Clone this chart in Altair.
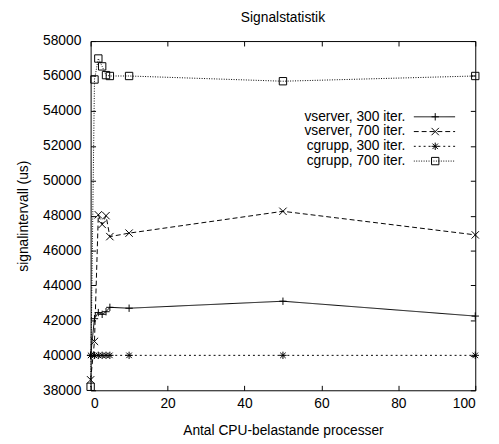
import altair as alt
import pandas as pd

# ---- data ----
x_vals = [0, 1, 2, 3, 4, 5, 10, 50, 100]
series_names = ["vserver, 300 iter.", "vserver, 700 iter.", "cgrupp, 300 iter.", "cgrupp, 700 iter."]
vserver_300 = [40000, 42100, 42450, 42350, 42500, 42750, 42700, 43100, 42250]
vserver_700 = [38600, 40800, 48050, 47500, 48000, 46800, 47000, 48250, 46900]
cgrupp_300 = [40000, 40000, 40000, 40000, 40000, 40000, 40000, 40000, 40000]
cgrupp_700 = [38200, 55800, 57000, 56550, 56050, 56000, 56000, 55700, 56000]
x_ticks = [0, 20, 40, 60, 80, 100]
y_ticks = [38000, 40000, 42000, 44000, 46000, 48000, 50000, 52000, 54000, 56000, 58000]

rows = []
for name, vals in zip(series_names, [vserver_300, vserver_700, cgrupp_300, cgrupp_700]):
    for xv, yv in zip(x_vals, vals):
        rows.append({"x": xv, "y": yv, "series": name,
                     "series_ln": name + " ", "series_pt": name + "  "})
df = pd.DataFrame(rows)

# ---- styles ----
W, H = 391, 355
FONT = "Liberation Sans"
FS = 14
dashes = [[1, 0], [5, 3], [2, 3], [1, 1.5]]
shapes = [
    "M-1,0L1,0M0,-1L0,1",
    "M-1,-1L1,1M-1,1L1,-1",
    "M-1,0L1,0M0,-1L0,1M-0.75,-0.75L0.75,0.75M-0.75,0.75L0.75,-0.75",
    "M-1,-1L1,-1L1,1L-1,1Z",
]

xscale = alt.Scale(domain=[0, 100], nice=False, zero=False)
yscale = alt.Scale(domain=[38000, 58000], nice=False, zero=False)

common_axis = dict(offset=-5, tickSize=5, domain=False, grid=False, tickColor="black",
                   labelColor="black", labelFont=FONT, labelFontSize=FS,
                   titleFont=FONT, titleFontSize=FS, titleFontWeight="normal", titleColor="black")

LEG_X = 328
LEG_Y = 69.5
common_leg = dict(title=None, orient="none", legendY=LEG_Y, clipHeight=15, rowPadding=0, padding=0)

base = alt.Chart(df)

lines = base.mark_line(strokeWidth=1, clip=False).encode(
    x=alt.X("x:Q", scale=xscale,
            axis=alt.Axis(orient="bottom", values=x_ticks, title="Antal CPU-belastande processer",
                          labelPadding=7, titlePadding=13, **common_axis)),
    y=alt.Y("y:Q", scale=yscale,
            axis=alt.Axis(orient="left", values=y_ticks, format="d", title="signalintervall (us)",
                          labelPadding=10, titleX=-73, titleBaseline="middle", **common_axis)),
    strokeDash=alt.StrokeDash(
        "series_ln:N",
        scale=alt.Scale(domain=[n + " " for n in series_names], range=dashes),
        legend=alt.Legend(legendX=LEG_X, symbolType="stroke", symbolSize=1764,
                          symbolStrokeWidth=1, symbolStrokeColor="black", symbolOffset=0,
                          labelExpr="''", labelOpacity=0, **common_leg),
    ),
    color=alt.Color(
        "series:N",
        scale=alt.Scale(domain=series_names, range=["black", "black", "black", "black"]),
        legend=alt.Legend(legendX=306, symbolSize=4, symbolOpacity=0, symbolOffset=0,
                          labelAlign="right", labelOffset=0, labelFont=FONT, labelFontSize=FS,
                          labelColor="black", labelLimit=300, **common_leg),
    ),
)

points = base.mark_point(filled=False, color="black", strokeWidth=1, size=56, opacity=1, clip=False).encode(
    x=alt.X("x:Q", scale=xscale,
            axis=alt.Axis(orient="top", values=x_ticks, labels=False, title=None, **common_axis)),
    y=alt.Y("y:Q", scale=yscale,
            axis=alt.Axis(orient="right", values=y_ticks, labels=False, title=None, **common_axis)),
    shape=alt.Shape(
        "series_pt:N",
        scale=alt.Scale(domain=[n + "  " for n in series_names], range=shapes),
        legend=alt.Legend(legendX=LEG_X, symbolSize=56, symbolOffset=17.3, symbolStrokeWidth=1,
                          symbolStrokeColor="black", symbolFillColor="transparent",
                          labelExpr="''", labelOpacity=0, **common_leg),
    ),
)

chart = alt.layer(lines, points).resolve_axis(
    x="independent", y="independent"
).resolve_scale(
    strokeDash="independent", shape="independent", color="independent"
).properties(
    width=W, height=H,
    title=alt.Title("Signalstatistik", font=FONT, fontSize=FS, fontWeight="normal",
                    color="black", anchor="middle", offset=9),
    autosize=alt.AutoSizeParams(type="none"),
    padding={"left": 84, "top": 30, "right": 16, "bottom": 51},
    background="white",
).configure_view(stroke="black", strokeWidth=1)

chart.save("out.html", embed_options={"renderer": "svg", "actions": False})
